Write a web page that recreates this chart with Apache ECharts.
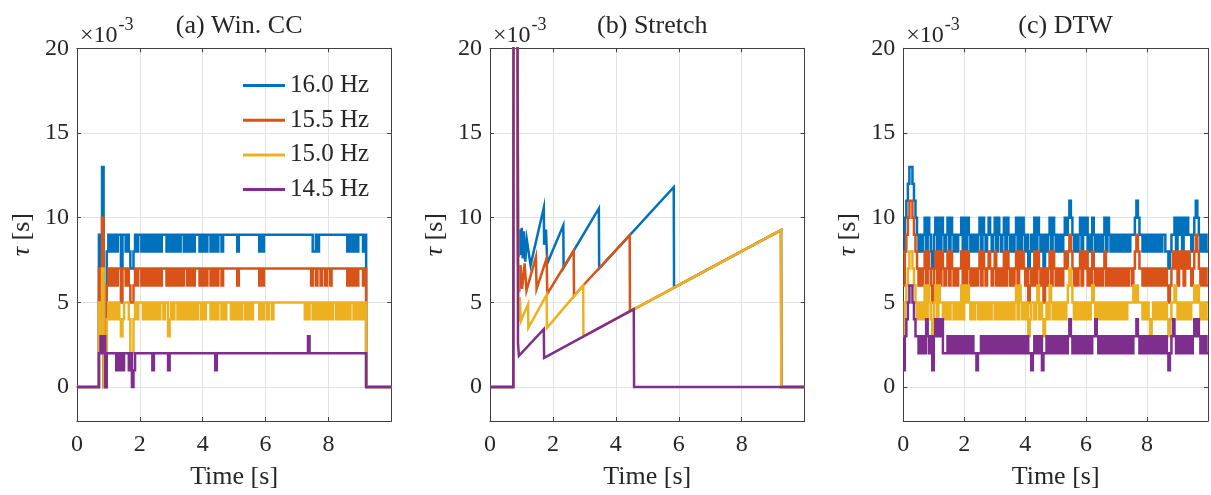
<!DOCTYPE html>
<html><head><meta charset="utf-8">
<script src="https://cdn.jsdelivr.net/npm/echarts@6.0.0/dist/echarts.min.js"></script>
<style>html,body{margin:0;padding:0;background:#fff}#chart{width:1211px;height:495px}</style>
</head><body><div id="chart"></div>
<script>
// ---------------- data ----------------
const seriesNames = ['16.0 Hz', '15.5 Hz', '15.0 Hz', '14.5 Hz'];
const panelTitles = ['(a) Win. CC', '(b) Stretch', '(c) DTW'];
const yTickValues = [0, 5, 10, 15, 20];
const xTickValues = [0, 2, 4, 6, 8];
const sampleStep = 0.05; // seconds between samples of the Win. CC and DTW estimates (values in 1e-3 s)

// (a) Win. CC  -- one value per 0.05 s sample, 20 samples per row (1 s)
const winCC160 = [
  0,0,0,0,0,0,0,0,0,0, 0,0,0,0,9,7,13,0,0,8,
  9,8,9,8,9,8,9,9,7,9, 9,8,9,8,7,7,8,9,8,9,
  9,8,9,8,9,8,9,8,9,8, 9,8,9,8,9,9,9,8,9,8,
  9,8,9,8,9,8,9,9,8,9, 8,9,8,9,8,9,9,9,8,9,
  8,9,8,9,9,8,9,8,9,8, 9,9,8,9,9,9,9,9,9,9,
  9,9,8,9,9,9,9,9,9,9, 9,9,9,9,9,9,8,9,8,9,
  9,9,9,9,9,9,9,9,9,9, 9,9,9,9,9,9,9,9,9,9,
  9,9,9,9,9,9,9,9,9,9, 8,8,9,8,9,9,9,9,9,9,
  9,9,9,9,9,9,9,9,9,9, 9,9,8,9,8,9,8,9,8,9,
  9,9,8,9,0,0,0,0,0,0, 0,0,0,0,0,0,0,0,0,0
];
const winCC155 = [
  0,0,0,0,0,0,0,0,0,0, 0,0,0,0,7,5,10,0,0,6,
  7,6,7,6,7,6,7,7,5,7, 7,6,7,6,5,5,6,7,6,7,
  7,6,7,6,7,6,7,6,7,6, 7,6,7,6,7,7,7,6,7,6,
  7,6,7,6,7,6,7,6,7,7, 6,7,6,7,6,7,7,7,6,7,
  6,7,6,7,7,6,7,6,7,6, 7,7,6,7,7,7,7,7,7,7,
  7,7,6,7,7,7,7,7,7,7, 7,7,7,7,7,7,6,7,6,7,
  7,7,7,7,7,7,7,7,7,7, 7,7,7,7,7,7,7,7,7,7,
  7,7,7,7,7,7,7,7,7,6, 7,7,6,7,7,6,7,7,6,7,
  7,6,7,7,7,7,7,7,7,7, 7,7,6,7,6,7,6,7,6,7,
  7,7,6,7,0,0,0,0,0,0, 0,0,0,0,0,0,0,0,0,0
];
const winCC150 = [
  0,0,0,0,0,0,0,0,0,0, 0,0,0,0,5,3,7,0,0,4,
  5,4,5,4,5,4,5,4,3,4, 5,5,5,4,2,2,4,5,4,5,
  5,5,4,5,4,5,4,5,4,5, 4,5,4,5,5,4,5,5,3,4,
  5,4,5,5,4,5,4,5,4,5, 4,5,4,5,4,5,4,5,5,4,
  5,4,5,5,5,4,5,4,5,4, 5,5,4,5,4,5,5,5,4,5,
  4,5,4,5,4,5,5,4,5,4, 5,4,5,5,5,5,4,5,4,5,
  5,4,5,5,4,5,5,5,5,5, 5,5,5,5,5,5,5,5,5,5,
  5,5,5,5,5,4,5,4,5,5, 4,5,4,5,4,5,4,5,4,5,
  4,5,4,5,5,4,5,4,5,4, 5,4,5,4,5,5,4,5,4,5,
  4,5,4,5,0,0,0,0,0,0, 0,0,0,0,0,0,0,0,0,0
];
const winCC145 = [
  0,0,0,0,0,0,0,0,0,0, 0,0,0,0,2,3,2,3,0,2,
  2,2,2,2,2,1,2,1,2,1, 2,2,2,1,2,0,1,2,2,2,
  2,2,2,2,2,2,2,2,1,2, 2,2,2,2,2,2,2,2,1,2,
  2,2,2,2,2,2,2,2,2,2, 2,2,2,2,2,2,2,2,2,2,
  2,2,2,2,2,2,2,2,1,2, 2,2,2,2,2,2,2,2,2,2,
  2,2,2,2,2,2,2,2,2,2, 2,2,2,2,2,2,2,2,2,2,
  2,2,2,2,2,2,2,2,2,2, 2,2,2,2,2,2,2,2,2,2,
  2,2,2,2,2,2,2,3,2,2, 2,2,2,2,2,2,2,2,2,2,
  2,2,2,2,2,2,2,2,2,2, 2,2,2,2,2,2,2,2,2,2,
  2,2,2,2,0,0,0,0,0,0, 0,0,0,0,0,0,0,0,0,0
];

// (b) Stretch -- [time s, tau 1e-3 s] vertices
const stretch160 = [[0,0],[0.74,0],[0.75,30],[0.87,30],[0.89,9.3],[0.92,7.7],[0.95,9.3],[0.98,7.8],[1.01,9.4],[1.04,7.6],[1.08,9.2],[1.12,7.4],[1.17,8.7],[1.29,7.2],[1.71,10.6],[1.72,8.4],[1.78,9.3],[1.82,7.3],[2.33,9.55],[2.34,7.05],[3.46,10.55],[3.47,7.0],[5.84,11.8],[5.85,5.88],[9.25,9.27],[9.26,0],[10,0]];
const stretch155 = [[0,0],[0.74,0],[0.75,30],[0.87,30],[0.89,7.4],[0.93,5.6],[0.97,7.2],[1.02,5.8],[1.10,7.3],[1.16,5.7],[1.46,7.7],[1.48,5.8],[1.80,7.6],[1.82,5.5],[2.66,8.05],[2.67,5.37],[2.96,6.0],[4.44,8.97],[4.45,4.47],[9.25,9.27],[9.26,0],[10,0]];
const stretch150 = [[0,0],[0.74,0],[0.75,30],[0.87,30],[0.88,15.5],[0.89,15.5],[0.90,3.9],[0.95,5.3],[0.98,3.9],[1.21,4.9],[1.22,3.5],[1.80,5.45],[1.81,3.5],[2.96,6.0],[2.97,3.0],[9.25,9.27],[9.26,0],[10,0]];
const stretch145 = [[0,0],[0.74,0],[0.75,30],[0.87,30],[0.89,2.6],[0.92,1.85],[1.71,3.42],[1.72,1.73],[4.57,4.6],[4.58,0],[10,0]];

// (c) DTW -- one value per 0.05 s sample
const dtw160 = [
  8,10,11,12,13,13,12,11,10,9, 8,9,8,9,10,8,10,9,8,7,
  9,10,8,10,8,10,9,8,9,10, 8,10,9,8,9,8,9,9,10,8,
  10,8,10,9,8,9,8,9,8,9, 10,8,10,9,8,9,10,9,8,9,
  10,8,10,9,8,9,10,8,10,9, 8,9,8,9,10,8,10,8,10,9,
  8,9,7,8,9,8,10,8,10,9, 8,9,7,9,8,9,10,8,10,9,
  8,9,8,9,8,9,10,9,10,11, 10,9,8,9,8,9,10,8,10,9,
  10,8,9,8,10,9,8,9,8,9, 8,9,10,8,10,9,8,9,8,9,
  8,9,8,9,8,9,8,9,8,9, 9,9,10,11,10,9,9,8,9,8,
  9,8,9,8,9,8,9,8,9,8, 9,9,8,8,7,8,9,9,10,8,
  10,9,10,8,10,9,10,9,9,8, 9,10,11,10,9,8,9,8,9,8
];
const dtw155 = [
  6,8,9,10,11,11,10,9,8,7, 6,7,6,7,8,6,8,7,6,5,
  7,8,6,8,6,8,7,6,7,8, 6,8,7,6,7,6,7,7,8,6,
  8,6,8,7,6,7,6,7,6,7, 8,6,8,7,6,7,8,7,6,7,
  8,6,7,6,7,6,8,6,8,7, 6,7,6,7,8,6,8,7,8,7,
  6,7,5,6,7,6,8,6,8,7, 6,7,5,7,6,7,8,6,8,7,
  6,7,6,7,6,7,8,7,8,9, 8,7,6,7,6,7,8,6,8,7,
  8,6,7,6,8,7,6,7,6,7, 6,7,8,6,7,6,7,6,7,6,
  7,6,7,6,7,6,7,6,7,7, 6,7,8,9,8,7,7,6,7,6,
  7,6,7,6,7,6,7,6,7,6, 7,6,7,6,5,6,7,8,7,8,
  6,8,7,8,6,8,7,8,7,6, 7,8,9,8,7,6,7,6,7,6
];
const dtw150 = [
  3,5,6,7,8,8,7,6,5,4, 5,4,5,4,6,4,6,5,4,3,
  5,6,4,6,5,5,4,5,4,5, 4,5,5,4,5,4,5,4,6,4,
  6,5,6,5,4,5,4,5,5,4, 5,4,5,4,5,4,5,4,5,5,
  4,5,4,5,4,5,4,5,4,5, 4,5,4,5,6,4,6,5,4,5,
  4,5,3,4,5,5,4,5,6,4, 5,4,3,4,5,4,6,5,4,5,
  4,5,4,5,4,5,4,5,6,7, 6,5,4,5,4,5,4,5,4,5,
  4,5,4,5,6,5,4,5,4,5, 4,5,4,5,4,5,4,5,4,5,
  4,5,4,5,4,5,4,5,5,5, 5,6,5,6,5,5,5,4,5,4,
  5,4,3,4,5,4,5,4,5,4, 5,4,5,4,3,4,5,5,6,5,
  4,5,4,5,4,5,4,5,4,5, 5,6,5,6,5,4,5,4,5,4
];
const dtw145 = [
  1,3,4,5,6,6,5,4,3,3, 2,3,2,3,2,4,3,2,3,1,
  3,4,3,4,3,4,2,2,2,3, 2,3,2,3,2,3,2,3,2,3,
  2,3,2,3,2,3,2,2,1,2, 2,3,2,3,2,3,2,3,2,3,
  2,3,2,3,2,3,2,3,2,3, 2,3,2,3,2,3,2,3,2,3,
  2,3,2,2,1,2,3,2,3,2, 3,1,2,2,3,2,3,2,3,2,
  3,2,3,2,3,2,3,2,3,4, 3,2,3,2,3,2,3,2,3,2,
  3,2,3,2,3,3,4,3,2,3, 2,3,2,3,2,3,2,3,2,3,
  2,3,2,3,2,3,2,3,2,3, 2,3,3,4,3,2,3,2,3,2,
  3,2,3,2,3,2,3,2,3,2, 3,2,3,2,1,2,3,4,3,2,
  3,2,3,2,3,2,3,2,3,2, 3,4,3,4,3,2,3,2,3,2
];

// ---------------- presentation ----------------
const colors = ['#0072BD', '#D95319', '#EDB120', '#7E2F8E'];
const FONT = '"Liberation Serif", "Times New Roman", serif';
const TXT = '#262626';
const AX = '#404040';
const GRIDC = '#e3e3e3';
const LW = 2.5;
const grids = [
  { left: 76.9, top: 48.3, width: 314.4, height: 378.4 },
  { left: 490, top: 48.3, width: 314.6, height: 378.4 },
  { left: 903.3, top: 48.3, width: 314.6, height: 378.4 }
];

// stairs: each sample value is held until the next sample time (like MATLAB stairs)
function stairs(values) {
  const pts = [];
  values.forEach((v, i) => {
    pts.push([i * sampleStep, v]);
    pts.push([(i + 1) * sampleStep, v]);
  });
  return pts;
}

// plain line series (panel b)
function lineSeries(points, gi, k) {
  return {
    type: 'line', name: seriesNames[k], xAxisIndex: gi, yAxisIndex: gi,
    data: points, showSymbol: false, symbol: 'none', clip: true,
    animation: false, silent: true,
    lineStyle: { width: LW, color: colors[k], join: 'miter' },
    itemStyle: { color: colors[k] }, emphasis: { disabled: true }, z: 2 + k
  };
}
// stair series drawn as one polyline through the axis scales (keeps every 1.6 px tread)
function stairSeries(points, gi, k) {
  return {
    type: 'custom', name: seriesNames[k], xAxisIndex: gi, yAxisIndex: gi,
    data: points, encode: { x: 0, y: 1 }, clip: true, animation: false, silent: true,
    itemStyle: { color: colors[k] }, z: 2 + k,
    renderItem: (params, api) => {
      if (params.dataIndex !== 0) return null;
      const pts = points.map(p => api.coord(p));
      return {
        type: 'polyline', silent: true,
        shape: { points: pts },
        style: { stroke: colors[k], lineWidth: LW, fill: null, lineJoin: 'miter', lineCap: 'butt' }
      };
    }
  };
}

const series = [];
[stretch160, stretch155, stretch150, stretch145].forEach((d, k) => series.push(lineSeries(d, 1, k)));
[winCC160, winCC155, winCC150, winCC145].forEach((d, k) => series.push(stairSeries(stairs(d), 0, k)));
[dtw160, dtw155, dtw150, dtw145].forEach((d, k) => series.push(stairSeries(stairs(d), 2, k)));

const tickStyle = { show: true, inside: true, length: 4, lineStyle: { color: AX, width: 1 } };
const lineStyleAx = { show: true, onZero: false, lineStyle: { color: AX, width: 1 } };
const xAxis = [], yAxis = [];
grids.forEach((g, gi) => {
  xAxis.push({
    gridIndex: gi, type: 'value', min: 0, max: 10, splitNumber: 5, position: 'bottom',
    name: 'Time [s]', nameLocation: 'middle', nameGap: 43,
    nameTextStyle: { fontFamily: FONT, fontSize: 26, color: TXT },
    axisLine: lineStyleAx, axisTick: tickStyle,
    axisLabel: { margin: 12, fontFamily: FONT, fontSize: 24, color: TXT,
      formatter: v => xTickValues.includes(v) ? String(v) : '' },
    splitLine: { show: true, lineStyle: { color: GRIDC, width: 1 } }
  });
  yAxis.push({
    gridIndex: gi, type: 'value', min: -2, max: 20, splitNumber: 5, position: 'left',
    name: '{i|τ} [s]', nameLocation: 'middle', nameGap: 42,
    nameTextStyle: { fontFamily: FONT, fontSize: 26, color: TXT,
      rich: { i: { fontStyle: 'italic', fontFamily: FONT, fontSize: 26, color: TXT } } },
    axisLine: lineStyleAx, axisTick: tickStyle,
    axisLabel: { margin: 8, fontFamily: FONT, fontSize: 24, color: TXT,
      formatter: v => yTickValues.includes(v) ? String(v) : '' },
    splitLine: { show: true, lineStyle: { color: GRIDC, width: 1 } }
  });
});
grids.forEach((g, gi) => {
  xAxis.push({ gridIndex: gi, type: 'value', min: 0, max: 10, splitNumber: 5, position: 'top',
    axisLine: lineStyleAx, axisTick: tickStyle, axisLabel: { show: false }, splitLine: { show: false } });
  yAxis.push({ gridIndex: gi, type: 'value', min: -2, max: 20, splitNumber: 5, position: 'right',
    axisLine: lineStyleAx, axisTick: tickStyle, axisLabel: { show: false }, splitLine: { show: false } });
});

const baseFont = '24px "Liberation Serif"';
const expFont = '18px "Liberation Serif"';
const mctx = document.createElement('canvas').getContext('2d');
mctx.font = baseFont;
const baseW = mctx.measureText('×10').width;
const graphic = [];
grids.forEach(g => {
  graphic.push({ type: 'text', x: g.left + 3, y: 36, silent: true,
    style: { text: '×10', font: baseFont, fill: TXT, verticalAlign: 'middle', textVerticalAlign: 'middle' } });
  graphic.push({ type: 'text', x: g.left + 4 + baseW, y: 25, silent: true,
    style: { text: '-3', font: expFont, fill: TXT, verticalAlign: 'middle', textVerticalAlign: 'middle' } });
});

const title = grids.map((g, gi) => ({
  text: panelTitles[gi], left: g.left + g.width / 2, textAlign: 'center', top: 8,
  textStyle: { fontFamily: FONT, fontSize: 26, fontWeight: 'normal', color: TXT }
}));

const chart = echarts.init(document.getElementById('chart'), null, { renderer: 'canvas' });
chart.setOption({
  animation: false,
  backgroundColor: '#ffffff',
  textStyle: { fontFamily: FONT },
  title: title,
  grid: grids.map(g => Object.assign({ containLabel: false }, g)),
  legend: {
    data: seriesNames, orient: 'vertical', left: 238, top: 68,
    itemWidth: 42, itemHeight: 3, itemGap: 9.7, icon: 'rect', selectedMode: false,
    textStyle: { fontFamily: FONT, fontSize: 25, color: TXT }
  },
  xAxis: xAxis, yAxis: yAxis, series: series, graphic: graphic
});
</script></body></html>
